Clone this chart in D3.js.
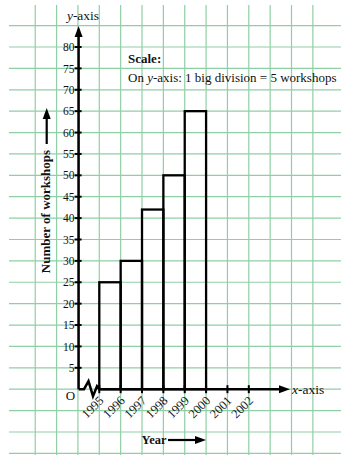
<!DOCTYPE html>
<html>
<head>
<meta charset="utf-8">
<script src="https://cdn.jsdelivr.net/npm/d3@7"></script>
<style>
  html, body { margin: 0; padding: 0; background: #fff; }
  svg { display: block; }
  text { font-family: "Liberation Serif", "DejaVu Serif", serif; fill: #111; }
</style>
</head>
<body>
<svg id="chart" width="345" height="459"></svg>
<script>
// ---- data ----
const years = [1995, 1996, 1997, 1998, 1999, 2000, 2001, 2002];
const binStarts = [1995, 1996, 1997, 1998, 1999];
const workshops = [25, 30, 42, 50, 65];
const yTicks = [5, 10, 15, 20, 25, 30, 35, 40, 45, 50, 55, 60, 65, 70, 75, 80];

const svg = d3.select("#chart");
const x = d3.scaleLinear().domain([1995, 2002]).range([99.3, 248.8]);
const y = d3.scaleLinear().domain([0, 80]).range([389.2, 47.0]);
const x0 = 78.6; // y-axis position
const gridColor = "#8fcfa5";

// ---- grid ----
const gridX = d3.range(1992, 2006);
const gridY = d3.range(-15, 90, 5);
const g = svg.append("g");
g.selectAll("line.gx").data(gridX).join("line")
  .attr("x1", d => x(d)).attr("x2", d => x(d))
  .attr("y1", 5).attr("y2", 455)
  .attr("stroke", gridColor).attr("stroke-width", 1.2);
g.selectAll("line.gy").data(gridY).join("line")
  .attr("x1", 9).attr("x2", 341)
  .attr("y1", d => y(d)).attr("y2", d => y(d))
  .attr("stroke", gridColor).attr("stroke-width", 1.2);

// ---- bars (histogram) ----
svg.append("g").selectAll("rect").data(binStarts).join("rect")
  .attr("x", d => x(d)).attr("width", d => x(d + 1) - x(d))
  .attr("y", (d, i) => y(workshops[i]))
  .attr("height", (d, i) => y(0) - y(workshops[i]))
  .attr("fill", "none").attr("stroke", "#000").attr("stroke-width", 2.3);

// ---- y axis ----
const ax = svg.append("g");
ax.append("line").attr("x1", x0).attr("x2", x0).attr("y1", y(0)).attr("y2", 34)
  .attr("stroke", "#000").attr("stroke-width", 2.5);
ax.append("path").attr("d", `M${x0},26 L${x0 - 4},37 L${x0 + 4},37 Z`).attr("fill", "#000");
ax.selectAll("line.yt").data(yTicks).join("line")
  .attr("x1", x0 - 4).attr("x2", x0 + 3)
  .attr("y1", d => y(d)).attr("y2", d => y(d))
  .attr("stroke", "#000").attr("stroke-width", 2);
ax.selectAll("text.yl").data(yTicks).join("text")
  .attr("x", x0 - 4).attr("y", d => y(d)).attr("dy", "0.36em")
  .attr("text-anchor", "end").attr("font-size", 11.5)
  .text(d => d);

const yl = svg.append("text").attr("x", 83).attr("y", 20).attr("text-anchor", "middle").attr("font-size", 13.5);
yl.append("tspan").attr("font-style", "italic").text("y");
yl.append("tspan").text("-axis");

// ---- x axis with break ----
const by = y(0);
ax.append("path")
  .attr("d", `M${x0},${by} L84,${by} L88.5,${by - 8} L93,${by + 7} L97,${by - 3} L${x(1995)},${by} L281,${by}`)
  .attr("fill", "none").attr("stroke", "#000").attr("stroke-width", 2.5).attr("stroke-linejoin", "miter");
ax.append("path").attr("d", `M290,${by} L279,${by - 4} L279,${by + 4} Z`).attr("fill", "#000");
ax.selectAll("line.xt").data(years).join("line")
  .attr("x1", d => x(d)).attr("x2", d => x(d))
  .attr("y1", by - 4).attr("y2", by + 4)
  .attr("stroke", "#000").attr("stroke-width", 2);
ax.selectAll("text.xl").data(years).join("text")
  .attr("transform", d => `translate(${x(d) + 2},${by + 9}) rotate(-45)`)
  .attr("text-anchor", "end").attr("dy", "0.35em").attr("font-size", 12.5)
  .text(d => d);

const xl = svg.append("text").attr("x", 292).attr("y", by).attr("dy", "0.33em").attr("font-size", 13.5);
xl.append("tspan").attr("font-style", "italic").text("x");
xl.append("tspan").text("-axis");

svg.append("text").attr("x", 70.5).attr("y", 395).attr("dy", "0.35em")
  .attr("text-anchor", "middle").attr("font-size", 13).text("O");

// ---- axis titles ----
svg.append("text").attr("x", 141.5).attr("y", 440).attr("dy", "0.35em")
  .attr("font-size", 12.5).attr("font-weight", "bold").text("Year");
svg.append("line").attr("x1", 168).attr("x2", 197).attr("y1", 440).attr("y2", 440)
  .attr("stroke", "#000").attr("stroke-width", 2.2);
svg.append("path").attr("d", "M206,440 L195,436 L195,444 Z").attr("fill", "#000");

svg.append("text").attr("transform", "translate(49.5,211.5) rotate(-90)")
  .attr("text-anchor", "middle").attr("font-size", 13).attr("font-weight", "bold")
  .text("Number of workshops");
svg.append("line").attr("x1", 46.7).attr("x2", 46.7).attr("y1", 144).attr("y2", 117)
  .attr("stroke", "#000").attr("stroke-width", 2.2);
svg.append("path").attr("d", "M46.7,108 L42.7,119 L50.7,119 Z").attr("fill", "#000");

// ---- scale note ----
svg.append("text").attr("x", 128).attr("y", 63).attr("font-size", 13)
  .attr("font-weight", "bold").text("Scale:");
const note = svg.append("text").attr("x", 128).attr("y", 82).attr("font-size", 13);
note.append("tspan").text("On ");
note.append("tspan").attr("font-style", "italic").text("y");
note.append("tspan").text("-axis: 1 big division = 5 workshops");
</script>
</body>
</html>
